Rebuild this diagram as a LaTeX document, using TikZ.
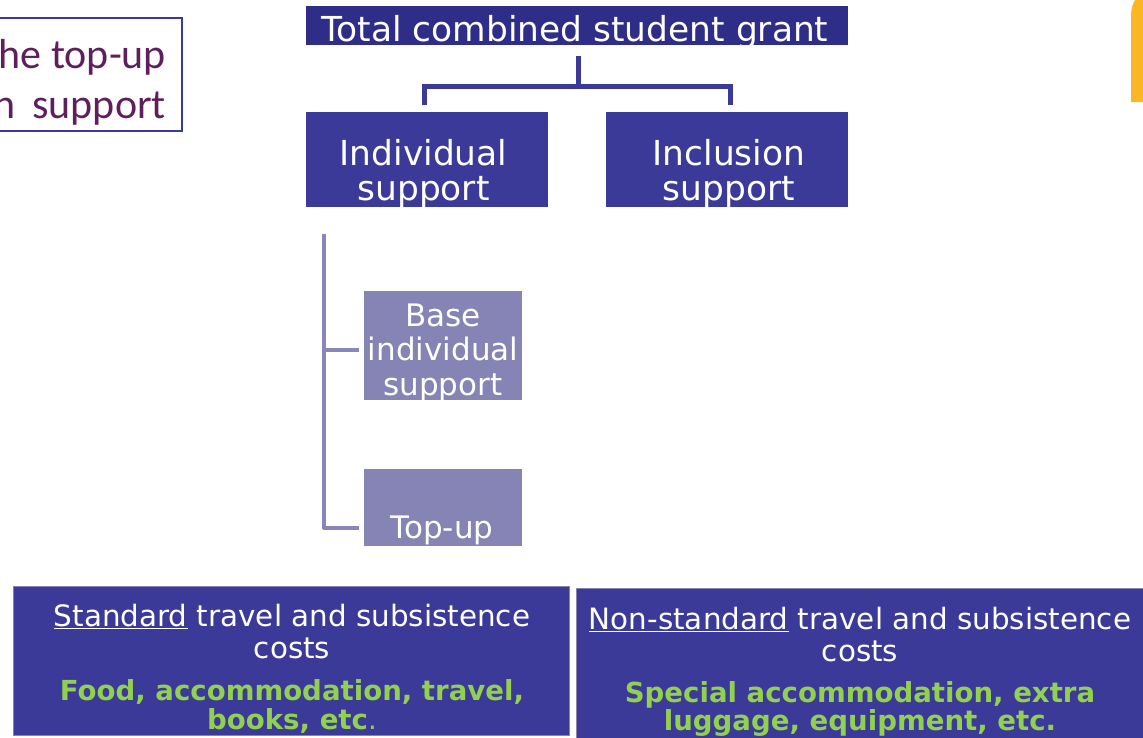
\documentclass[tikz,border=0pt]{standalone}
\usepackage{fontspec}
\setmainfont{DejaVu Sans}
\newfontfamily\calib{Carlito}
\definecolor{navy}{HTML}{2E2D87}
\definecolor{boxblue}{HTML}{3B3A98}
\definecolor{lav}{HTML}{8584B5}
\definecolor{lavline}{HTML}{8886BA}
\definecolor{grn}{HTML}{92D050}
\definecolor{plum}{HTML}{5E1F5C}
\definecolor{orng}{HTML}{FBB625}
\begin{document}
\begin{tikzpicture}[x=1pt,y=-1pt,
  every node/.style={inner sep=0pt,outer sep=0pt},
  boxst/.style={fill=#1,draw=none},
  wtxt/.style={text=white,align=center,anchor=base},
  gtxt/.style={text=grn,align=center,anchor=base,font=\fontsize{27.6}{28}\selectfont\bfseries},
  conn/.style={draw=boxblue,line width=5pt},
  lconn/.style={draw=lavline,line width=4pt,line join=round},
]
\clip (0,0) rectangle (1143,737);
% orange tab at the right edge
\fill[orng] (1131,102) -- (1131,18) .. controls (1131,8) and (1133,2) .. (1136,-1) -- (1150,-1) -- (1150,102) -- cycle;
% note box top left
\node[draw=boxblue,line width=1.5pt,minimum width=187pt,minimum height=113pt] (note) at (88.5,74.5) {};
\node[anchor=base east,align=right,text=plum,font=\calib\fontsize{42}{50}\selectfont] (notetxt) at (166,118) {he top-up\\n\hspace{0.4em}support};
% top box
\node[boxst=navy,minimum width=542pt,minimum height=39pt] (top) at (577,25.5) {};
\node[wtxt,font=\fontsize{34.4}{36}\selectfont] (toptxt) at (575,41) {Total combined student grant};
% second level
\node[boxst=boxblue,minimum width=242pt,minimum height=95pt] (ind) at (427,159.5) {};
\node[boxst=boxblue,minimum width=242pt,minimum height=95pt] (inc) at (727,159.5) {};
\node[wtxt,font=\fontsize{34.4}{35}\selectfont] (indtxt) at (423.5,200) {Individual\\support};
\node[wtxt,font=\fontsize{34.4}{35}\selectfont] (inctxt) at (729,200) {Inclusion\\support};
% connector top
\coordinate (s1) at (578,56);
\coordinate (j) at (578,86);
\draw[conn] (s1) -- (j);
\draw[conn] ([xshift=-3pt,yshift=7pt]ind.north) |- (j) -| ([xshift=3pt,yshift=7pt]inc.north);
% third level
\node[boxst=lav,minimum width=158pt,minimum height=109pt] (base) at (443,345.5) {};
\node[boxst=lav,minimum width=158pt,minimum height=77pt] (topup) at (443,507.5) {};
\node[wtxt,font=\fontsize{31}{34.5}\selectfont] (basetxt) at (443,395) {Base\\individual\\support};
\node[wtxt,font=\fontsize{31}{34.5}\selectfont] (topuptxt) at (442,538) {Top-up};
\coordinate (vt) at (324,234);
\draw[lconn] (vt) |- ([xshift=-5pt,yshift=-4.5pt]base.west);
\draw[lconn] (vt) |- ([xshift=-5pt,yshift=-20.5pt]topup.west);
% bottom boxes
\node[boxst=boxblue,draw=lav,line width=0.6pt,minimum width=556pt,minimum height=149pt] (std) at (291,660.5) {};
\node[boxst=boxblue,draw=lav,line width=0.6pt,minimum width=574pt,minimum height=152pt] (nstd) at (863,664) {};
\node[wtxt,font=\fontsize{29.4}{32}\selectfont] (stdw) at (292,658) {\underline{Standard} travel and subsistence\\costs};
\node[gtxt] (stdg) at (292,729) {Food, accommodation, travel,\\[1pt]books, etc{\mdseries.}};
\node[wtxt,font=\fontsize{29.4}{32}\selectfont] (nstdw) at (860,661) {\underline{Non-standard} travel and subsistence\\costs};
\node[gtxt] (nstdg) at (860,730) {Special accommodation, extra\\luggage, equipment, etc.};
\end{tikzpicture}
\end{document}
